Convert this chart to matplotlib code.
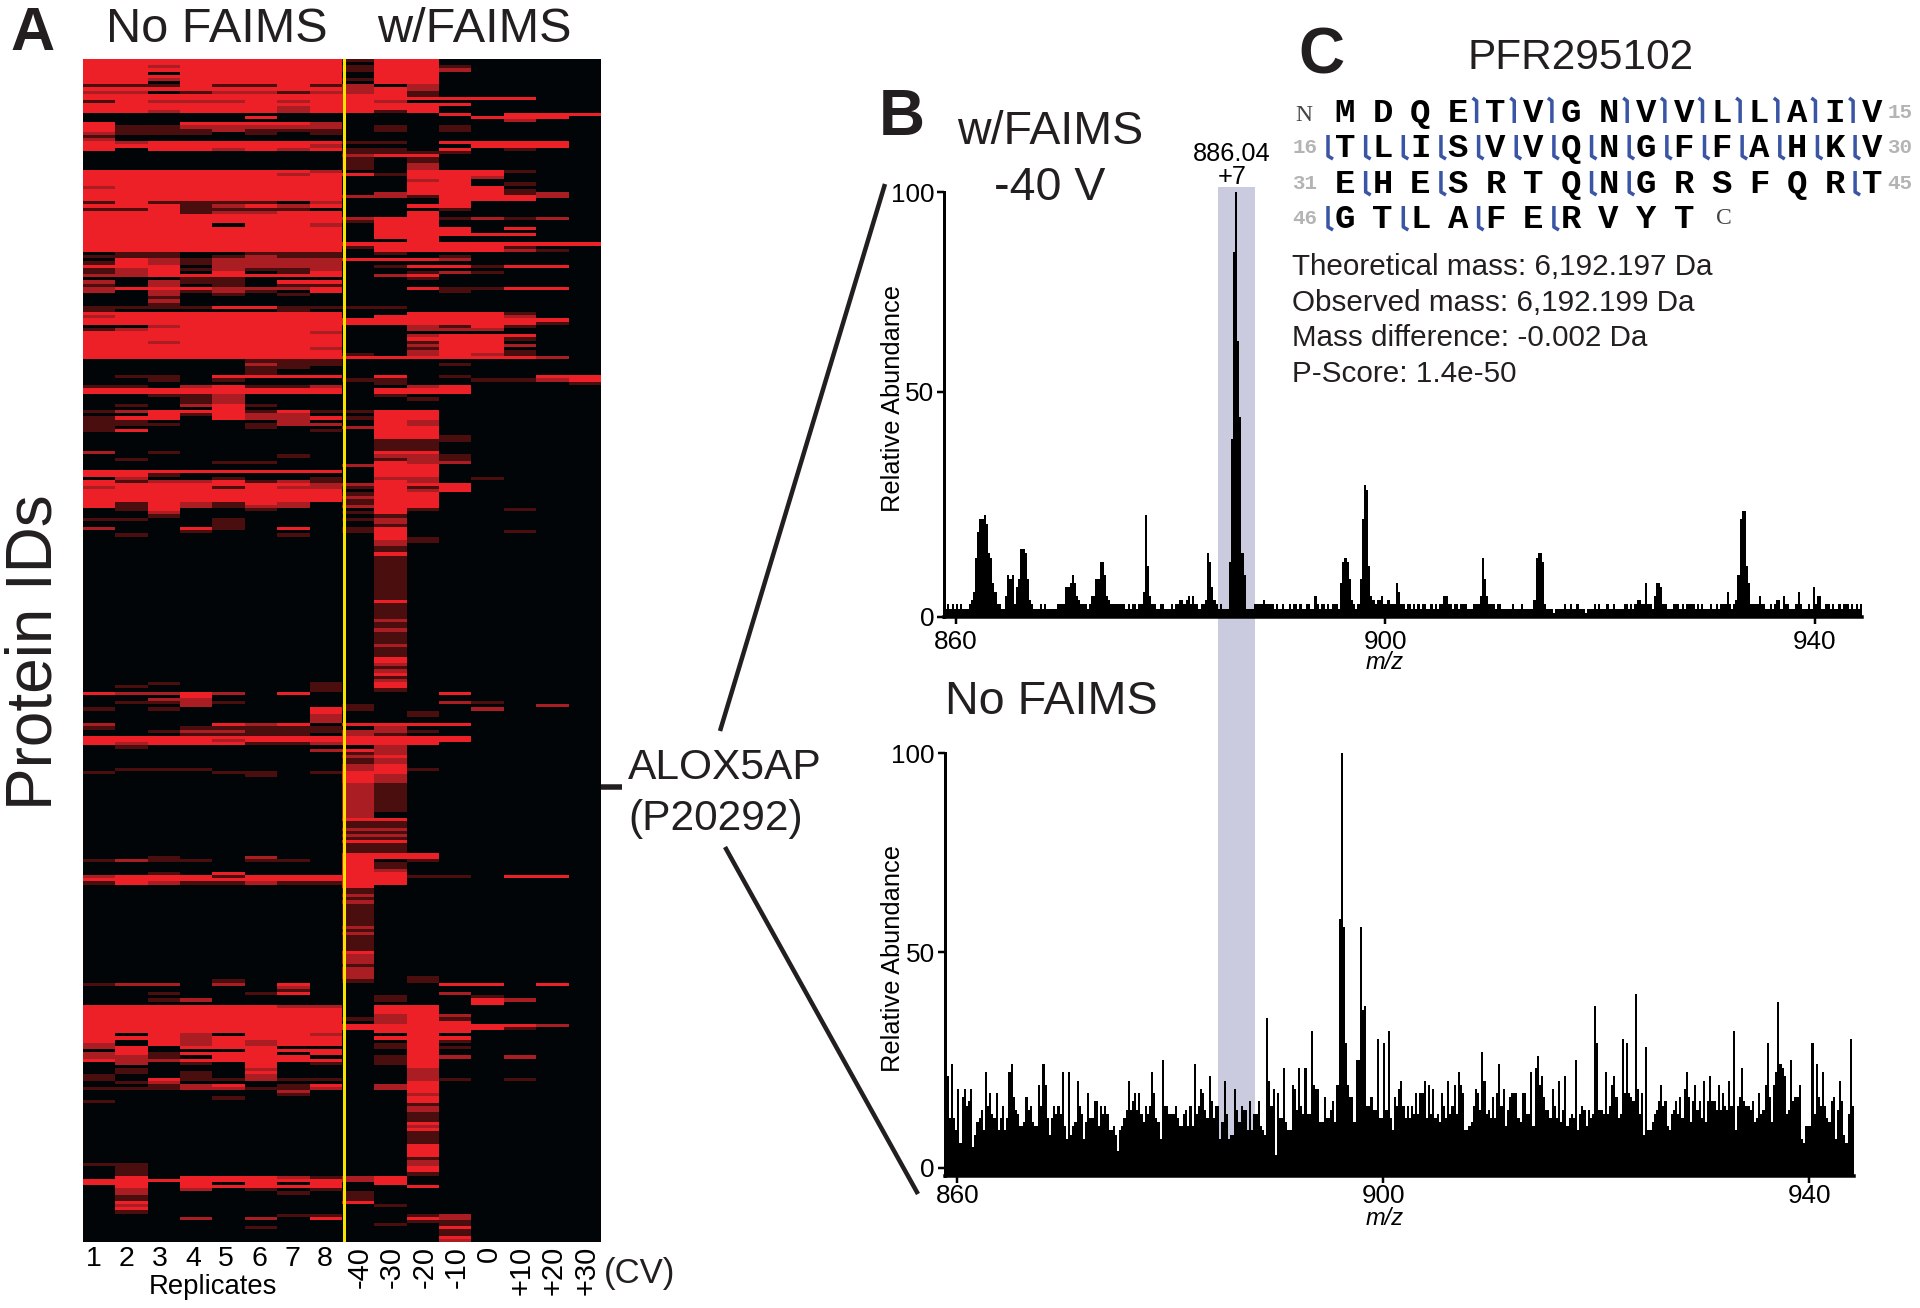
import numpy as np
import matplotlib
matplotlib.use("Agg")
import matplotlib.pyplot as plt
from matplotlib.colors import ListedColormap
from matplotlib.lines import Line2D
from matplotlib.patches import Rectangle

plt.rcParams['font.family'] = ['Liberation Sans', 'DejaVu Sans']

# ---------- data ----------
replicates = ['1', '2', '3', '4', '5', '6', '7', '8']
cv_labels = ['-40', '-30', '-20', '-10', '0', '+10', '+20', '+30']
heat_colors = ['#020507', '#4b0e0f', '#a91d23', '#ed1f27']

# one string per protein row: 8 replicates, then 8 CV values; level 0..3
heat_rows = [
 "33333333 13300000","33333333 03300000","33233333 13310000","33333333 13320000",
 "33033333 03300000","33333333 03300000","33233333 13300000","33033333 03300000",
 "11131131 20200000","33333333 23200000","22012212 23100000","33333333 33100000",
 "33333333 33333300","13222323 32000000","33333333 33330000","33333323 33300000",
 "33233323 31300000","00000000 00030333","00000300 00003330","00000000 00000200",
 "30033332 00000000","31122222 01010000","31112111 01010000","21110101 00000000",
 "10000000 00000000","20000000 00000000","32333333 11033330","33333332 00003330",
 "30332323 11030100","00000000 11110000","00000000 23300000","00000000 10100000",
 "00000000 10100000","00000000 10200000","00000000 10200000","33333332 00333100",
 "33333323 31333000","33333333 00332000","33333333 00230000","33333333 00330100",
 "23333333 00333000","33333333 00333100","33333333 02333120","33333333 22133320",
 "33333333 00033300","13111102 00030000","33312323 00330000","11311110 00010000",
 "33312233 00300000","33333333 00300000","33333333 23312120","33333333 13300000",
 "33330332 03300000","33333333 03330300","33333333 03330000","33333333 03333300",
 "33333333 03300000","33333333 00300000","33333333 33333333","33333333 13333100",
 "33333333 03333210","01100111 01000000","11101211 00010000","03212222 33320000",
 "13212222 00000000","33302222 01331330","12312112 00000000","12303013 00121000",
 "22333333 02300000","00011000 00100000","20211033 00000000","10201011 00000000",
 "23332223 00311330","20212103 00010000","00201010 00000000","00100000 00000000",
 "00200000 00000000","00100000 00000000","11113311 11000000","10000010 00000000",
 "33333333 00333100","23333333 03333200","33333333 33333330","33333333 33333310",
 "00233333 00213100","12333333 00222000","33333332 00000000","33333333 00233300",
 "33333333 00333100","33233333 00133000","33333333 00233200","33333332 00133000",
 "33333333 00233100","33333333 10232100","33333333 33333320","00000111 00000000",
 "00000211 00010000","00000110 00000000","00000100 00000000","00000100 00000000",
 "01103333 03010033","00101000 11001123","00000000 01000001","11023112 00230000",
 "33333333 03330000","33333333 03330000","00112000 01000000","00012000 00100000",
 "00012000 00000000","01023100 00000000","00003000 00000000","12333131 13300000",
 "00313220 03300000","13303223 13300000","11000020 03200000","11100122 03200000",
 "10000100 23300000","13000001 03300000","00000000 03300000","00000000 03310000",
 "00000000 01110000","00000000 01100000","00000000 01100000","00000000 01100000",
 "20100000 03300000","00000010 02210000","01000000 01210000","00001100 03220000",
 "00000000 23300000","00000000 03300000","33333333 03300000","33100000 03300000",
 "02001001 02201000","31223121 03200000","33333332 23330000","23331322 13130000",
 "33333333 03230000","33333333 13300000","33333333 23300000","33333333 13300000",
 "31321320 13300000","31321220 23300000","01300100 03100100","00200000 13000000",
 "00100000 01000000","11001000 12000000","00001000 02000000","00001000 01000000",
 "20031030 13000000","00010000 13000100","01000010 03000000","00000000 03100000",
 "00000000 02100000","00000000 02000000","00000000 01000000","00000000 01000000",
 "00000000 03000000"] + ["00000000 01000000"] * 14 + [
 "00000000 03000000"] + ["00000000 01000000"] * 5 + [
 "00000000 02000000","00000000 01000000","00000000 01000000","00000000 02000000"] + [
 "00000000 01000000"] * 4 + ["00000000 02000000"] + ["00000000 01000000"] * 3 + [
 "00000000 03000000","00000000 03000000","00000000 02000000","00000000 01000000",
 "00000000 02000000","00000000 03000000","00000000 01000000","00000000 02000000",
 "00100001 03000000","01000001 03000000","00000001 01000000",
 "32232030 00030000","00030000 00000000","00220000 00000000","01121000 00021000",
 "00020000 10000020","10100003 10002000","00000003 00100000","00000002 00100000",
 "00000002 00000000","00000002 00000000","20003230 33330000","10011111 02000000",
 "00122111 22100000","00011110 21000000","33333333 33330000","33332333 33330000",
 "32333112 33300000","01000000 02000000","00000002 32000000","00000000 12000000",
 "00000000 23000000","00000000 12000000","00000000 12000000","00000000 23000000",
 "01110000 23100000","10001101 33000000","00000100 32000000","00000000 32000000",
 "00000000 32000000"] + ["00000000 21000000"] * 9 + [
 "00000000 20000000","00000000 20000000","00000000 33000000","00000000 11000000",
 "00000000 11000000","00000000 22000000","00000000 11000000","00000000 22000000",
 "00000000 11000000","00000000 33000000","00000000 11000000","00000000 11000000",
 "00000000 11000000","00000000 33300000","00100200 33300000","12110110 30100000",
 "00000000 31000000","00000000 31000000","00000000 32000000","00103000 33000000",
 "23331333 33110330","33333333 33000000","13211211 33000000","00000000 30000000",
 "00000000 10000000","00000000 10000000","00000000 20000000","00000000 10000000",
 "00000000 20000000"] + ["00000000 10000000"] * 7 + [
 "00000000 20000000","00000000 10000000","00000000 20000000"] + [
 "00000000 10000000"] * 5 + [
 "00000000 30000000","00000000 20000000","00000000 20000000","00000000 20000000",
 "00000000 10000000","00000000 20000000","00000000 20000000","00000000 20000000",
 "00000000 20100000","00001000 10100000",
 "12202030 00033030","00000020 00000000","00000010 00000000","00100130 00020000",
 "00000000 01001000","00120000 01003200","00000000 00003000","33333322 03300000",
 "33333333 03300000","33333333 03300000","33333333 02320000","33333333 12310000",
 "33333333 02330000","33333333 33333320","33333333 33333100","33333333 03330000",
 "30320332 00300000","33323333 03330000","30323233 00310000","20323233 01300000",
 "23033300 01310000","03000333 00300000","23133303 00300000","22103330 01320200",
 "32233333 01300000","02010301 01300000","00000300 00300000","01000200 00200000",
 "01010300 00200000","10010200 00200000","10311211 00210100","01200000 00300000",
 "00123013 02300000","11122112 02300000","00000020 00300000","00000010 00200000",
 "00001000 00300000","10000000 00300000","00000000 00100000","00000000 00200000",
 "00000000 00200000","00000000 00100000","00000000 00100000","00000000 00100000",
 "00000000 00300000","00000000 00200000","00000000 00300000","00000000 00100000",
 "00000000 00100000","00000000 00100000","00000000 00100000","00000000 00300000",
 "00000000 00300000","00000000 00300000","00000000 00300000","00000000 00100000",
 "00000000 00200000","11000000 00200000","01000000 00300000","01000000 00300000",
 "01000000 00100000","03033321 23000000","33333333 23000000","33030303 03000000",
 "03033333 00300000","02020101 00000000","02000010 10000000","01000000 10000000",
 "01000000 10000000","03000000 30000000","02000000 01000000","03000000 00000000",
 "01000000 00000000","00000011 00120000","00020203 00320000","00000000 00110000",
 "00000000 01010000","00000100 00030000","00000000 00010000","00000000 00010000",
 "00000000 00030000","00000000 00020000",
]

# spectrum with FAIMS: intensity per 0.2 m/z bin starting at m/z 859.0
faims_start = 859.0
faims_int = [
 2,3,2,3,2, 3,2,3,2,2, 2,3,4,6,14, 20,23,23,24,22, 15,14,8,6,3,
 3,2,2,5,10, 9,10,3,7,9, 16,16,15,9,4, 3,2,2,2,3, 2,3,2,2,2,
 2,2,3,3,3, 3,7,7,8,10, 8,5,4,3,3, 3,2,3,5,5, 9,9,13,13,10,
 5,4,3,3,3, 3,3,3,3,2, 3,2,3,3,2, 3,3,6,24,12, 5,3,3,2,2,
 3,3,2,2,2, 3,2,3,3,4, 4,3,4,5,3, 5,3,3,2,3, 3,4,15,13,7,
 4,3,2,3,2, 2,2,13,42,86, 100,65,47,15,10, 2,2,2,2,3, 3,3,3,4,3,
 3,3,3,2,3, 2,2,3,2,2, 3,2,3,3,2, 3,2,2,3,3, 2,2,5,3,2,
 3,3,2,3,2, 3,3,3,2,8, 13,14,13,9,4, 3,2,3,9,23, 31,30,12,5,4,
 3,4,4,5,3, 3,4,3,3,3, 8,6,3,3,2, 3,3,2,3,2, 3,2,3,3,2,
 2,3,2,3,2, 3,3,5,5,3, 3,2,3,3,2, 3,3,3,2,2, 2,3,3,3,5,
 14,9,5,3,3, 3,2,3,3,2, 2,2,2,2,3, 2,2,2,3,2, 2,2,2,2,4,
 14,15,15,13,3, 2,2,2,1,2, 2,2,2,3,2, 2,3,2,2,3, 2,2,2,1,2,
 2,2,3,2,3, 2,2,2,3,2, 2,3,2,2,2, 2,3,3,2,3, 2,3,4,4,3,
 3,8,3,3,2, 5,8,8,7,3, 3,2,2,2,3, 3,3,2,3,2, 3,3,3,3,2,
 3,2,3,2,2, 2,3,2,2,3, 2,3,3,3,6, 3,2,3,4,10, 23,25,25,12,8,
 3,3,3,3,5, 3,3,2,2,3, 2,3,4,4,2, 5,3,3,2,2, 2,3,6,3,2,
 2,2,3,2,7, 3,5,5,2,2, 3,3,2,3,2, 2,3,2,3,3, 3,2,3,2,3, 2,3,
]

# spectrum without FAIMS: intensity per 0.2 m/z bin starting at m/z 858.8
nofaims_start = 858.8
nofaims_int = [
 15,22,12,25,12,9,19,6,17,19,15,16,19,5,8,11,12,14,9,23,15,18,13,12,18,
 9,12,15,9,12,23,25,17,14,13,10,10,11,17,14,15,11,10,10,20,15,25,20,12,8,
 12,15,13,15,13,23,10,7,23,8,10,11,21,15,13,7,11,18,12,12,16,16,10,15,13,
 15,13,9,9,10,8,4,9,10,12,14,21,14,16,18,14,18,13,11,15,13,15,23,18,12,
 11,7,26,15,15,13,13,13,15,12,10,10,13,14,10,15,10,25,13,15,19,18,14,12,22,
 16,12,15,15,7,11,21,13,7,8,8,19,14,11,15,14,14,9,16,9,13,13,16,10,9,
 8,36,21,15,19,3,18,12,12,24,11,9,9,20,19,14,24,15,13,24,13,13,33,20,19,
 19,11,11,17,12,12,14,16,11,20,60,100,58,30,20,17,17,11,26,26,58,38,39,15,15,
 17,14,14,31,12,12,30,14,33,12,9,17,15,19,21,15,12,15,12,15,13,18,13,18,18,
 21,12,20,13,19,12,13,11,18,15,12,21,13,15,20,13,23,20,18,9,9,10,11,15,19,
 18,14,28,21,13,14,12,17,12,18,25,15,19,10,14,17,18,18,18,12,11,18,18,13,13,
 23,10,24,27,20,22,17,14,14,12,19,15,12,21,11,14,22,10,12,13,12,26,9,13,15,
 14,10,14,12,13,39,30,14,14,13,23,13,15,20,22,17,12,13,31,18,30,18,17,16,42,
 19,13,18,8,29,9,9,11,13,14,16,20,15,16,10,9,13,14,16,13,17,12,19,23,17,
 11,16,20,14,16,12,21,11,16,22,16,16,14,20,14,18,15,14,21,15,33,9,15,17,24,
 16,15,15,14,16,11,12,18,13,14,20,30,17,11,20,23,40,25,24,22,13,14,26,16,17,
 17,20,7,6,10,10,10,30,13,25,17,15,23,15,12,11,16,17,7,14,21,16,8,6,13,
 31,15,
]

mz_ticks = [860, 900, 940]
abundance_labels = ['0', '50', '100']

seq_rows = ['MDQETVGNVVLLAIV', 'TLISVVQNGFFAHKV', 'EHESRTQNGRSFQRT', 'GTLAFERVYT']
seq_start = ['', '16', '31', '46']
seq_end = ['15', '30', '45', '']
cleave_upper = [[4, 5, 6, 8, 9, 10, 11, 12, 13, 14], [], [], []]
cleave_lower = [[], list(range(15)), [1, 3, 7, 8, 14], [0, 2, 4, 6]]
info_lines = ['Theoretical mass: 6,192.197 Da', 'Observed mass: 6,192.199 Da',
              'Mass difference: -0.002 Da', 'P-Score: 1.4e-50']

# ---------- layout helpers (full-size pixels) ----------
W, H = 1920, 1308
fig = plt.figure(figsize=(W / 100, H / 100), dpi=100, facecolor='white')
INK = '#231f20'
PX = 72 / 100

def fx(x): return x / W
def fy(y): return 1 - y / H
def add_ax(l, t, r, b):
    return fig.add_axes([fx(l), fy(b), (r - l) / W, (b - t) / H])
def T(x, y, s, size, ha='center', va='center', color=INK, rotation=0, **kw):
    if rotation:
        x += 0.08 * size
    else:
        y += 0.11 * size
    return fig.text(fx(x), fy(y), s, fontsize=size, ha=ha, va=va, color=color,
                    rotation=rotation, **kw)
def L(xs, ys, lw, color=INK, **kw):
    fig.add_artist(Line2D([fx(v) for v in xs], [fy(v) for v in ys], lw=lw * PX,
                          color=color, solid_capstyle='butt', **kw))

# shaded band behind the spectra
fig.add_artist(Rectangle((fx(1218), fy(1172)), 37 / W, (1172 - 187) / H,
                         transform=fig.transFigure, facecolor='#cbcbe0',
                         edgecolor='none', zorder=-5))

# ---------- panel A ----------
matrix = np.array([[int(c) for c in r.replace(' ', '')] for r in heat_rows])
axh = add_ax(83, 59, 601, 1242)
axh.imshow(matrix, cmap=ListedColormap(heat_colors), vmin=0, vmax=3,
           aspect='auto', interpolation='nearest')
axh.axvline(7.56, color='#f7e300', lw=3 * PX)
axh.set_xticks([]); axh.set_yticks([])
for s in axh.spines.values():
    s.set_visible(False)

col_px = 518 / 16
for i, lab in enumerate(replicates):
    T(94 + 33 * i, 1257, lab, 20.5, color='black')
for i, lab in enumerate(cv_labels):
    T(83 + col_px * (8.5 + i), 1246, lab, 21, va='top', rotation=90, color='black')
T(213, 1285, 'Replicates', 19.8, color='black')
T(640, 1271, '(CV)', 25)
T(31, 652, 'Protein IDs', 46, rotation=90)
T(217, 26, 'No FAIMS', 35)
T(474, 26, 'w/FAIMS', 35)
T(33, 30, 'A', 44, fontweight='bold')

L([601, 622], [787, 787], 5.5)
T(628, 765, 'ALOX5AP', 30.6, ha='left')
T(628, 816, '(P20292)', 30.6, ha='left')
L([720, 885], [731, 184], 4.5)
L([725, 918], [847, 1194], 4.5)

# ---------- panel B ----------
def spectrum_axes(ax, start, values, base, tick50, xpad):
    edges = start + 0.2 * np.arange(len(values) + 1)
    ax.stairs(values, edges, fill=True, color='black', lw=0, baseline=base)
    ax.patch.set_alpha(0)
    for s in ('top', 'right'):
        ax.spines[s].set_visible(False)
    ax.spines['left'].set_linewidth(3 * PX)
    ax.spines['bottom'].set_linewidth(3.5 * PX)
    ax.set_xticks(mz_ticks)
    ax.set_yticks([0, tick50, 100])
    ax.set_yticklabels(abundance_labels)
    ax.tick_params(axis='both', labelsize=18.8, width=2.5 * PX, length=7 * PX, pad=2)
    ax.tick_params(axis='x', pad=xpad)

axt = add_ax(944, 192, 1862, 617)
spectrum_axes(axt, faims_start, faims_int, 0, 53, 4)
axt.set_xlim(858.9, 944.4); axt.set_ylim(0, 100)

axb = add_ax(944.5, 753, 1854, 1176)
spectrum_axes(axb, nofaims_start, nofaims_int, -2, 52, 1)
axb.set_xlim(858.8, 944.2); axb.set_ylim(-2, 100)

T(892, 398, 'Relative Abundance', 18.3, rotation=90, color='black')
T(892, 958, 'Relative Abundance', 18.3, rotation=90, color='black')
T(1385, 661, 'm/z', 17, style='italic', color='black')
T(1385, 1217, 'm/z', 17, style='italic', color='black')
T(1232, 152, '886.04', 18.3, color='black')
T(1232, 175, '+7', 18.3, color='black')
T(1050, 128, 'w/FAIMS', 33.5)
T(1050, 184, '-40 V', 33.5)
T(1051, 698, 'No FAIMS', 33.6)
T(902, 113, 'B', 46, fontweight='bold')

# ---------- panel C ----------
T(1321, 51, 'C', 46, fontweight='bold')
T(1581, 55, 'PFR295102', 30.5)
seq_x0, seq_dx = 1345, 37.65
seq_y = [111, 146, 182, 217]
MONO = 'Liberation Mono'
BLUE = '#3b55a5'
for r, row in enumerate(seq_rows):
    y = seq_y[r]
    for k, ch in enumerate(row):
        T(seq_x0 + seq_dx * k, y, ch, 24.5, family=MONO, fontweight='bold', color='black')
    if seq_start[r]:
        T(1305, y, seq_start[r], 15, family=MONO, fontweight='bold', color='#b4b4b4')
    if seq_end[r]:
        T(1900, y, seq_end[r], 15, family=MONO, fontweight='bold', color='#b4b4b4')
    for k in cleave_upper[r]:
        x = seq_x0 + seq_dx * k - 19
        L([x - 4, x, x], [y - 13, y - 10, y + 12], 3.5, color=BLUE)
    for k in cleave_lower[r]:
        x = seq_x0 + seq_dx * k - 17
        L([x, x, x + 5], [y - 11, y + 10, y + 13], 3.5, color=BLUE)
T(1304, 114, 'N', 17, family='Liberation Serif', color='#444444')
T(1724, 217, 'C', 17, family='Liberation Serif', color='#444444')
for y, line in zip([265, 301, 336, 372], info_lines):
    T(1292, y, line, 21.3, ha='left')

fig.savefig('out.png', dpi=100, facecolor='white')
